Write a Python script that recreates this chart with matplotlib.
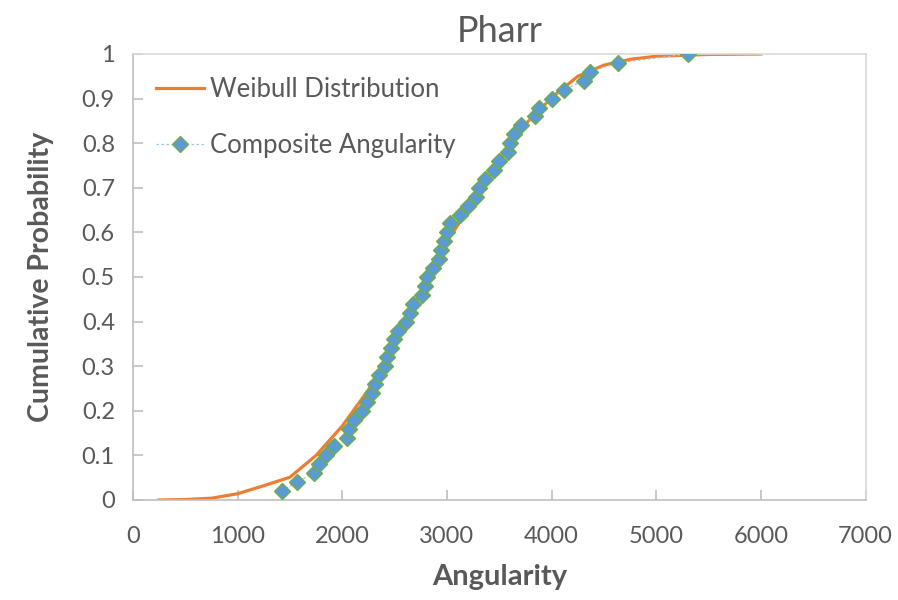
import numpy as np
import matplotlib
matplotlib.use("Agg")
import matplotlib.pyplot as plt

# Weibull CDF as drawn
weibull_x = [250, 500, 750, 1000, 1250, 1500, 1750, 2000, 2250, 2500, 2750,
             3000, 3250, 3500, 3750, 4000, 4250, 4500, 4750, 5000, 5500, 6000]
weibull_p = [0.000, 0.001, 0.004, 0.014, 0.032, 0.051, 0.100, 0.166, 0.247, 0.350, 0.467,
             0.580, 0.668, 0.760, 0.843, 0.902, 0.950, 0.975, 0.988, 0.995, 0.999, 1.000]

# composite angularity, empirical CDF
comp_x = [1420, 1563, 1729, 1773, 1840, 1920, 2041, 2063, 2108, 2184,
          2235, 2280, 2314, 2350, 2404, 2423, 2464, 2490, 2528, 2605,
          2646, 2677, 2760, 2792, 2808, 2862, 2923, 2945, 2970, 3002,
          3025, 3123, 3200, 3273, 3308, 3359, 3445, 3493, 3586, 3601,
          3640, 3704, 3840, 3881, 3999, 4117, 4305, 4365, 4632, 5298]
comp_p = [0.02, 0.04, 0.06, 0.08, 0.10, 0.12, 0.14, 0.16, 0.18, 0.20,
          0.22, 0.24, 0.26, 0.28, 0.30, 0.32, 0.34, 0.36, 0.38, 0.40,
          0.42, 0.44, 0.46, 0.48, 0.50, 0.52, 0.54, 0.56, 0.58, 0.60,
          0.62, 0.64, 0.66, 0.68, 0.70, 0.72, 0.74, 0.76, 0.78, 0.80,
          0.82, 0.84, 0.86, 0.88, 0.90, 0.92, 0.94, 0.96, 0.98, 1.00]

x_ticks = [0, 1000, 2000, 3000, 4000, 5000, 6000, 7000]
y_ticks = [0, 0.1, 0.2, 0.3, 0.4, 0.5, 0.6, 0.7, 0.8, 0.9, 1]
y_labels = ["0", "0.1", "0.2", "0.3", "0.4", "0.5", "0.6", "0.7", "0.8", "0.9", "1"]

plt.rcParams['font.family'] = ['Lato', 'DejaVu Sans']
text_col = '#595959'
grid_col = '#D9D9D9'

fig = plt.figure(figsize=(8.98, 6.0), dpi=100)
ax = fig.add_axes([0.148, 0.1667, 0.816, 0.7433])

ax.plot(weibull_x, weibull_p, color='#ED7D31', lw=2.3, label='Weibull Distribution',
        zorder=2)
ax.plot(comp_x, comp_p, color='#9DC3E6', lw=0.9, ls=(0, (2, 2)), marker='D',
        markersize=8, markerfacecolor='#5B9BD5', markeredgecolor='#70AD47',
        markeredgewidth=1.0, label='Composite Angularity', zorder=3)

ax.set_xlim(0, 7000)
ax.set_ylim(0, 1)
ax.set_xticks(x_ticks)
ax.set_yticks(y_ticks)
ax.set_yticklabels(y_labels)

for s in ax.spines.values():
    s.set_color(grid_col)
    s.set_linewidth(1.2)
ax.spines['bottom'].set_color('#BFBFBF')
ax.spines['left'].set_color('#BFBFBF')

ax.tick_params(axis='both', direction='in', length=7, width=1.2, color='#BFBFBF',
               labelcolor=text_col, labelsize=17)
ax.tick_params(axis='x', pad=19)
ax.tick_params(axis='y', pad=13)

ax.set_title('Pharr', fontsize=26, color=text_col, pad=9)
ax.set_xlabel('Angularity', fontsize=21, fontweight='bold', color=text_col, labelpad=12)
ax.set_ylabel('Cumulative Probability', fontsize=20.5, fontweight='bold', color=text_col,
              labelpad=20)

leg = ax.legend(loc='upper left', bbox_to_anchor=(0.0, 1.0), frameon=False,
                fontsize=18.5, labelspacing=1.2, handlelength=1.85, handletextpad=0.25,
                labelcolor=text_col)

fig.savefig('out.png', dpi=100)
